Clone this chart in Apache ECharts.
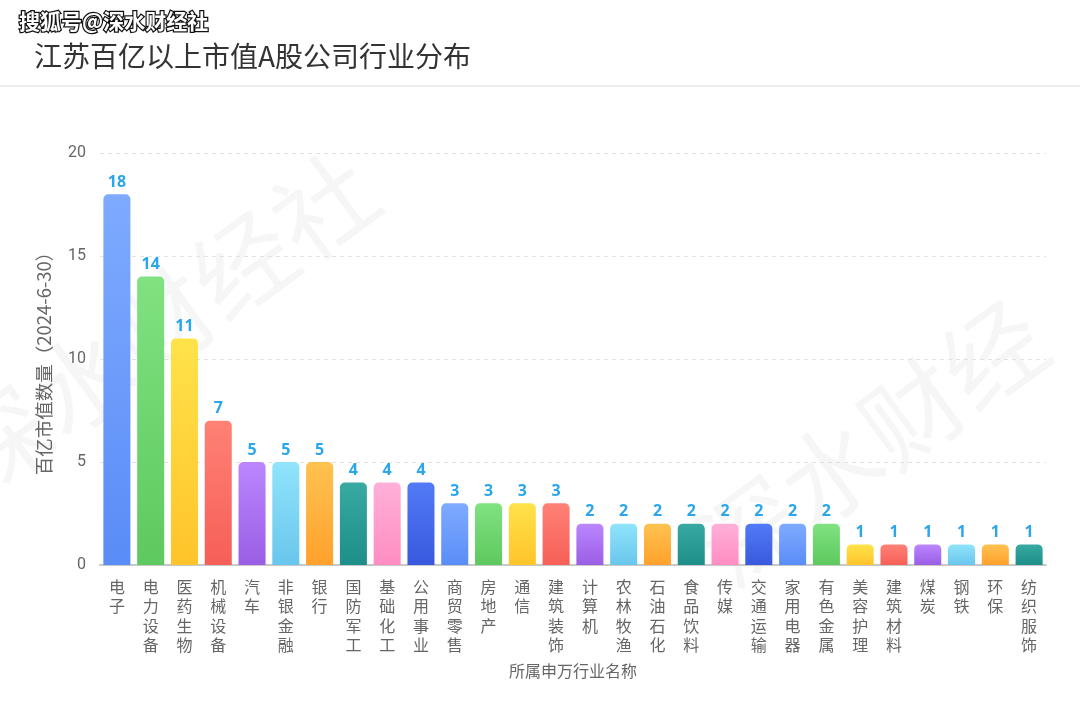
<!DOCTYPE html>
<html><head><meta charset="utf-8">
<script src="https://cdn.jsdelivr.net/npm/echarts@6/dist/echarts.min.js"></script>
<style>html,body{margin:0;padding:0;background:#fff;}#c{width:1080px;height:710px;}</style>
</head><body><div id="c"></div>
<script>
const categories = ['电子','电力设备','医药生物','机械设备','汽车','非银金融','银行','国防军工','基础化工','公用事业','商贸零售','房地产','通信','建筑装饰','计算机','农林牧渔','石油石化','食品饮料','传媒','交通运输','家用电器','有色金属','美容护理','建筑材料','煤炭','钢铁','环保','纺织服饰'];
const values = [18,14,11,7,5,5,5,4,4,4,3,3,3,3,2,2,2,2,2,2,2,2,1,1,1,1,1,1];
const yTicks = [0,5,10,15,20];
const palette = [
  ['#7eabff','#5a8cf7'],['#80e280','#5ec95e'],['#ffe24a','#ffc42a'],['#ff8176','#f65f57'],
  ['#bb86ff','#9a5ee4'],['#90e4fb','#69c6ec'],['#ffc250','#ffa12c'],['#38aaa2','#1e8e88'],
  ['#ffb0d8','#ff8dc2'],['#527af6','#3859de']
];
const chart = echarts.init(document.getElementById('c'));
chart.setOption({
  backgroundColor:'#fff',
  animation:false,
  title:[
    {text:'江苏百亿以上市值A股公司行业分布',left:29,top:37,textStyle:{fontSize:28,fontWeight:'normal',color:'#333',fontFamily:'Noto Sans CJK SC'}},
    {text:'搜狐号@深水财经社',left:14,top:6,textStyle:{fontSize:21,fontWeight:'bold',color:'#fff',textBorderColor:'#111',textBorderWidth:2.5,fontFamily:'Noto Sans CJK SC'}}
  ],
  graphic:[
    {type:'rect',left:0,top:85,shape:{width:1080,height:2},style:{fill:'#ededed'}},
    {type:'text',x:-40,y:470,rotation:Math.PI/5,style:{text:'深水财经社',fontSize:100,verticalAlign:'middle',fill:'rgba(0,0,0,0.035)',fontFamily:'Noto Sans CJK SC'},z:-1},
    {type:'text',x:710,y:560,rotation:Math.PI/5,style:{text:'深水财经',fontSize:100,verticalAlign:'middle',fill:'rgba(0,0,0,0.035)',fontFamily:'Noto Sans CJK SC'},z:-1}
  ],
  grid:{left:100,right:34,top:153,bottom:145},
  xAxis:{
    type:'category',data:categories,
    name:'所属申万行业名称',nameLocation:'middle',nameGap:98,
    nameTextStyle:{fontSize:16,color:'#666',fontFamily:'Noto Sans CJK SC'},
    axisLine:{lineStyle:{color:'#c8c8c8',width:2}},axisTick:{show:false},
    axisLabel:{interval:0,margin:12,fontSize:16,color:'#666',lineHeight:19.5,fontFamily:'Noto Sans CJK SC',
      formatter:v=>v.split('').join('\n')}
  },
  yAxis:{
    type:'value',min:yTicks[0],max:yTicks[yTicks.length-1],interval:5,
    name:'百亿市值数量（2024-6-30）',nameLocation:'middle',nameGap:47,
    nameTextStyle:{fontSize:18.5,color:'#666',fontFamily:'Noto Sans CJK SC'},
    axisLine:{show:false},axisTick:{show:false},
    axisLabel:{fontSize:16,color:'#666',margin:14,fontFamily:'Roboto'},
    splitLine:{lineStyle:{type:[4,4],color:'#e2e2e2'}}
  },
  series:[{
    type:'bar',barWidth:'80%',
    data:values.map((v,i)=>{const p=palette[i%palette.length];return {value:v,itemStyle:{borderRadius:[5,5,0,0],
      color:new echarts.graphic.LinearGradient(0,0,0,1,[{offset:0,color:p[0]},{offset:1,color:p[1]}])}};}),
    label:{show:true,position:'top',distance:4,fontSize:16,fontWeight:'bold',color:'#2aa6ea',fontFamily:'Noto Sans'}
  }]
});
</script></body></html>
